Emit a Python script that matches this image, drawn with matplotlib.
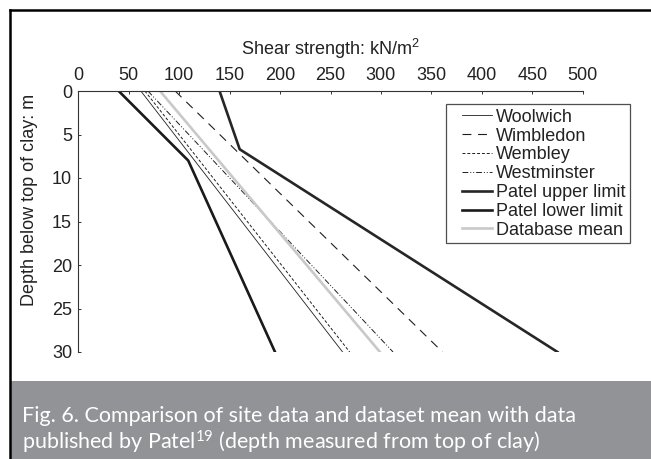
import matplotlib
matplotlib.use("Agg")
import matplotlib.pyplot as plt
from matplotlib.lines import Line2D
from matplotlib.legend_handler import HandlerLine2D
from matplotlib.patches import Rectangle

# ---- data ----
depth = [0, 30]
woolwich = [62, 262]
wimbledon = [96, 361]
wembley = [66, 269]
westminster = [69, 312]
patel_upper_depth = [0, 6.7, 30]
patel_upper = [140, 160, 475]
patel_lower_depth = [0, 8, 30]
patel_lower = [40, 109, 195]
db_mean = [81, 299]
x_ticks = [0, 50, 100, 150, 200, 250, 300, 350, 400, 450, 500]
y_ticks = [0, 5, 10, 15, 20, 25, 30]

plt.rcParams['font.family'] = ['Liberation Sans', 'DejaVu Sans']
plt.rcParams['mathtext.default'] = 'regular'

W, H = 651, 459
fig = plt.figure(figsize=(W / 100, H / 100), dpi=100)
fig.patch.set_facecolor('white')

def fx(px):
    return px / W

def fy(py):
    return 1 - py / H

ax = fig.add_axes([fx(78.3), fy(352), fx(582.7) - fx(78.3), fy(91) - fy(352)])

ink = '#1e1e1e'
ax.plot(woolwich, depth, color=ink, lw=0.6, ls='-', label='Woolwich')
ax.plot(wimbledon, depth, color=ink, lw=0.8, ls=(0, (8, 6)), label='Wimbledon')
ax.plot(wembley, depth, color=ink, lw=0.7, ls=(0, (3, 2)), label='Wembley')
ax.plot(westminster, depth, color=ink, lw=0.7, ls=(0, (6, 2, 1, 2, 1, 2)), label='Westminster')
ax.plot(patel_upper, patel_upper_depth, color='#262626', lw=1.9, label='Patel upper limit')
ax.plot(patel_lower, patel_lower_depth, color='#1a1a1a', lw=1.9, label='Patel lower limit')
ax.plot(db_mean, depth, color='#c9c9c9', lw=1.9, label='Database mean')

ax.set_xlim(0, 500)
ax.set_ylim(30, 0)
ax.set_xticks(x_ticks)
ax.set_yticks(y_ticks)
ax.xaxis.tick_top()
for s in ['right', 'bottom']:
    ax.spines[s].set_visible(False)
for s in ['left', 'top']:
    ax.spines[s].set_linewidth(0.8)
    ax.spines[s].set_color('#333333')
ax.tick_params(axis='both', direction='in', length=2.3, width=0.7, color='#333333',
               labelsize=13, labelcolor='#222222')
ax.tick_params(axis='x', pad=5)
ax.tick_params(axis='y', pad=4.5)

leg = ax.legend(loc='upper left', bbox_to_anchor=(fx(445.7), fy(104.3)),
                bbox_transform=fig.transFigure, borderaxespad=0,
                fontsize=13, frameon=True, fancybox=False, shadow=False,
                borderpad=0.25, labelspacing=0.1, handlelength=2.3,
                handletextpad=0.25,
                handler_map={Line2D: HandlerLine2D(xpad=0.65)})
leg.get_frame().set_edgecolor('#222222')
leg.get_frame().set_linewidth(0.9)
for t in leg.get_texts():
    t.set_color('#222222')

fig.text(fx(330), fy(55), 'Shear strength: kN/m$^2$', ha='center', va='baseline',
         fontsize=13, color='#222222')
fig.text(fx(30), fy(200), 'Depth below top of clay: m', ha='center', va='center',
         rotation=90, fontsize=13, color='#222222')

# caption band and outer frame
fig.patches.append(Rectangle((fx(10), 0), 1 - fx(10), fy(381), transform=fig.transFigure,
                             facecolor='#929397', edgecolor='none', zorder=0))
fig.add_artist(Line2D([fx(10), 1], [fy(10), fy(10)], color='black', lw=1.8,
                      transform=fig.transFigure))
fig.add_artist(Line2D([fx(10), fx(10)], [0, fy(10)], color='black', lw=1.8,
                      transform=fig.transFigure))

cap_font = ['Lato', 'DejaVu Sans']
fig.text(fx(22), fy(422), 'Fig. 6. Comparison of site data and dataset mean with data',
         ha='left', va='baseline', fontsize=15.5, color='white', family=cap_font)
fig.text(fx(22), fy(450), 'published by Patel$^{19}$ (depth measured from top of clay)',
         ha='left', va='baseline', fontsize=15.5, color='white', family=cap_font)

fig.savefig('out.png', dpi=100)
